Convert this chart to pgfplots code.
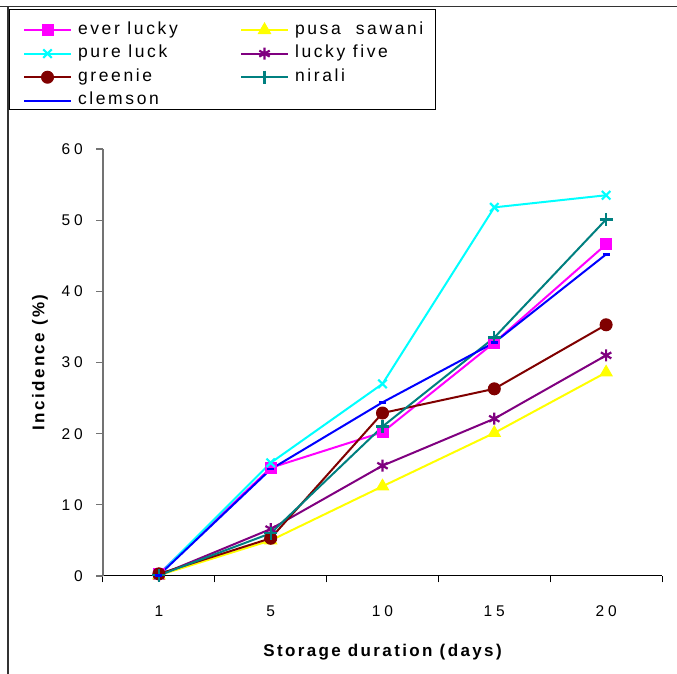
\documentclass[border=0pt]{standalone}
\usepackage{pgfplots}
\pgfplotsset{compat=1.18}
\usepackage{fontspec}
\setmainfont{Liberation Sans}
\newfontfamily\tickfont{Liberation Sans}[LetterSpace=25]
\newfontfamily\legfont{Liberation Sans}[LetterSpace=15]
\newfontfamily\labfont{Liberation Sans}[LetterSpace=14]
\definecolor{cmag}{RGB}{255,0,255}
\definecolor{cyel}{RGB}{255,255,0}
\definecolor{ccya}{RGB}{0,255,255}
\definecolor{cpur}{RGB}{128,0,128}
\definecolor{cdred}{RGB}{128,0,0}
\definecolor{cteal}{RGB}{0,128,128}
\definecolor{cblue}{RGB}{0,0,255}
\begin{document}
\begin{tikzpicture}[x=1pt,y=1pt]
\useasboundingbox (0,0) rectangle (677,674);
\fill[white] (0,0) rectangle (677,674);
\draw[line width=1.3pt, black!80] (0,667.5) -- (677,667.5);
\draw[line width=1.3pt, black!80] (8,667.5) -- (8,0);
\draw[line width=1pt] (9,664) rectangle (435,564);
\begin{axis}[
  at={(103pt,98pt)}, anchor=south west,
  scale only axis, width=559pt, height=427pt,
  xmin=0.5, xmax=5.5, ymin=0, ymax=60,
  clip=false,
  axis x line*=bottom, axis y line*=left,
  x axis line style={black, line width=1pt},
  y axis line style={black!55, line width=1.3pt},
  xtick={0.5,1.5,2.5,3.5,4.5,5.5},
  x tick label as interval,
  xticklabels={1,5,10,15,20},
  ytick={0,10,20,30,40,50,60},
  yticklabels={0,10,20,30,40,50,60},
  tick align=outside, tick pos=left,
  major tick length=6.5pt,
  x tick style={black, line width=1pt},
  y tick style={black!55, line width=1.3pt},
  xticklabel style={font=\tickfont\fontsize{15.5}{15.5}\selectfont, anchor=center, yshift=-29pt},
  yticklabel style={font=\tickfont\fontsize{15.5}{15.5}\selectfont, anchor=east, inner sep=0pt, xshift=-13.5pt},
  xlabel={\bfseries Storage duration (days)},
  ylabel={\bfseries Incidence (\%)},
  xlabel style={font=\labfont\fontsize{17}{17}\selectfont, at={(axis description cs:0.5,-0.178)}, anchor=center},
  ylabel style={font=\labfont\fontsize{17}{17}\selectfont, at={(axis description cs:-0.1127,0.5)}, anchor=center},
  every axis plot/.append style={line width=2pt},
  legend columns=2,
  legend cell align=left,
  legend image code/.code={\draw[mark repeat=2,mark phase=2] plot coordinates {(0pt,0pt)(23.5pt,0pt)(47pt,0pt)};},
  legend style={at={(axis description cs:-0.1431,1.2974)}, anchor=north west,
    draw=none, fill=none, inner sep=0pt, outer sep=0pt,
    row sep=7.6pt, column sep=6pt,
    nodes={inner sep=0pt, text height=12pt, text depth=4pt},
    font=\legfont\fontsize{17.5}{17.5}\selectfont},
]
\addplot[cmag, line width=2pt, mark=square*, mark size=5.5pt, mark options={solid, line width=1pt}] coordinates {(1,0.3)(2,15.2)(3,20.2)(4,32.8)(5,46.6)};
\addlegendentry{\makebox[156pt][l]{ever lucky}}
\addplot[cyel, line width=2pt, mark=triangle*, mark size=7pt, mark options={solid, line width=1pt}] coordinates {(1,0.1)(2,5.0)(3,12.6)(4,20.1)(5,28.6)};
\addlegendentry{pusa\ \ sawani}
\addplot[ccya, line width=2pt, mark=x, mark size=6pt, mark options={solid, line width=2.2pt}] coordinates {(1,0.2)(2,15.9)(3,27.0)(4,51.8)(5,53.5)};
\addlegendentry{\makebox[156pt][l]{pure luck}}
\addplot[cpur, line width=2pt, mark=asterisk, mark size=6pt, mark options={solid, line width=2.2pt}] coordinates {(1,0.1)(2,6.6)(3,15.5)(4,22.1)(5,31.0)};
\addlegendentry{lucky five}
\addplot[cdred, line width=2pt, mark=*, mark size=6pt, mark options={solid, line width=1pt}] coordinates {(1,0.3)(2,5.3)(3,22.9)(4,26.3)(5,35.3)};
\addlegendentry{\makebox[156pt][l]{greenie}}
\addplot[cteal, line width=2pt, mark=+, mark size=6.5pt, mark options={solid, line width=2.2pt}] coordinates {(1,0.1)(2,6.0)(3,21.0)(4,33.5)(5,50.1)};
\addlegendentry{nirali}
\addplot[cblue, line width=2pt, mark=-, mark size=3.5pt, mark options={solid, line width=2.5pt}] coordinates {(1,0.1)(2,15.0)(3,24.4)(4,32.8)(5,45.2)};
\addlegendentry{\makebox[156pt][l]{clemson}}
\end{axis}
\end{tikzpicture}
\end{document}
